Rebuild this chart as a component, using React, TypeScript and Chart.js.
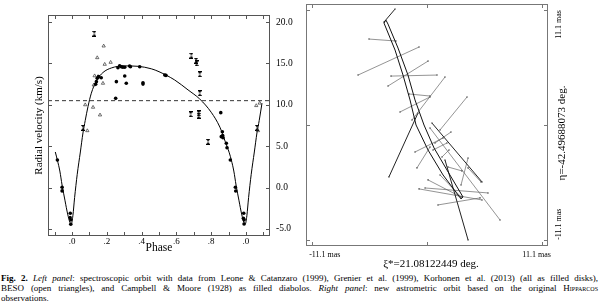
import React, { useEffect, useRef } from 'react';
import { Chart, registerables } from 'chart.js';

Chart.register(...registerables);

const SERIF = "'Liberation Serif', 'Times New Roman', serif";

// ---------- Left panel: spectroscopic orbit ----------
const PHASE_MIN = -0.138;
const PHASE_MAX = 1.138;
const RV_MIN = -5.85;
const RV_MAX = 20.85;
const phaseTicks = [0, 0.2, 0.4, 0.6, 0.8, 1.0];
const phaseTickLabels = ['.0', '.2', '.4', '.6', '.8', '.0'];
const phaseMinorTicks = [-0.1, 0, 0.1, 0.2, 0.3, 0.4, 0.5, 0.6, 0.7, 0.8, 0.9, 1.0, 1.1];
const rvTicks = [-5, 0, 5, 10, 15, 20];
const rvTickLabels = ['-5.0', '0.0', '5.0', '10.0', '15.0', '20.0'];
const systemicVelocity = 10.5;

const curvePhase = [-0.096, -0.084, -0.07, -0.057, -0.04, -0.025, -0.012, -0.004, 0.005, 0.015, 0.03, 0.048, 0.063, 0.076, 0.092, 0.111, 0.14, 0.178, 0.226, 0.3, 0.38, 0.456, 0.5, 0.59, 0.667, 0.734, 0.8, 0.85, 0.88, 0.904, 0.916, 0.93, 0.943, 0.96, 0.975, 0.988, 0.996, 1.005, 1.015, 1.03, 1.048, 1.063, 1.076, 1.092];
const curveRV = [4.3, 3.3, 2.0, 0.3, -1.6, -3.2, -4.2, -4.4, -3.4, -1.2, 1.6, 4.3, 6.6, 8.1, 9.8, 11.4, 12.9, 13.9, 14.45, 14.7, 14.65, 14.35, 14.0, 13.0, 11.8, 10.7, 9.1, 7.3, 5.6, 4.2, 3.3, 2.0, 0.3, -1.6, -3.2, -4.2, -4.4, -3.4, -1.2, 1.6, 4.3, 6.6, 8.1, 10.2];

const diskPhase = [-0.084, -0.057, -0.057, -0.010, -0.011, -0.007, -0.007, 0.136, 0.140, 0.145, 0.153, 0.168, 0.255, 0.251, 0.264, 0.274, 0.283, 0.292, 0.303, 0.303, 0.312, 0.331, 0.336, 0.389, 0.408, 0.408, 0.533, 0.540, 0.855, 0.858, 0.864, 0.868, 0.866, 0.887, 0.891, 0.910, 0.939, 0.941, 0.987, 0.985, 0.989, 0.989];
const diskRV = [3.33, 0.04, -0.4, -3.1, -3.63, -3.9, -4.43, 12.48, 12.8, 13.2, 13.4, 13.27, 12.8, 10.78, 14.48, 14.72, 14.6, 14.55, 14.53, 13.48, 12.6, 14.69, 14.6, 14.6, 12.67, 12.5, 13.6, 13.55, 9.05, 6.15, 6.75, 6.03, 6.3, 5.35, 4.82, 3.33, 0.04, -0.41, -3.1, -3.71, -3.9, -4.4];

const trianglePhase = [0.076, 0.088, 0.121, 0.125, 0.13, 0.145, 0.149, 0.161, 0.178, 0.182, 0.188, 0.222, 1.059, 1.069, 1.079];
const triangleRV = [10.0, 6.87, 9.7, 12.39, 13.5, 15.69, 13.4, 8.77, 12.6, 17.1, 14.89, 15.13, 9.9, 6.87, 10.2];

const diaboloPhase = [0.128, 0.686, 0.713, 0.716, 0.734, 0.734, 0.682, 0.728, 0.728, 0.063, 1.063, 0.782];
const diaboloRV = [18.6, 15.95, 15.35, 15.0, 13.68, 11.39, 8.85, 8.95, 8.7, 7.24, 7.24, 5.54];

// ---------- Right panel: astrometric orbit (mas) ----------
const MAS_LIM = 11.7;
const masTicks = [-11.1, 0, 11.1];
const masTickLabels = ['-11.1 mas', '', '11.1 mas'];
const xiTitle = 'ξ*=21.08122449 deg.';
const etaTitle = 'η=-42.49688073 deg.';

const orbitXi = [-3.97, -4.16, -3.09, -2.32, -1.64, -1.06, 0.10, 1.55, 3.29, 3.48, 1.93, 0.68, -0.29, -1.16, -1.84, -2.80, -3.77, -3.97];
const orbitEta = [10.14, 9.86, 7.25, 4.83, 2.42, 0.0, -2.42, -4.83, -7.15, -6.96, -4.35, -2.22, 0.0, 2.42, 4.83, 7.44, 9.76, 10.14];

const segXi1 = [-4.16, -5.61, -6.67, -3.77, -3.48, -1.45, -2.61, -1.74, 1.26, -3.68, -1.16, -0.97, -0.19, 0.29, 0.48, 1.74, -0.77, 1.06, 0.10, 3.29, 3.97, 0.58, 0.77, 1.26, 2.03, 1.45];
const segEta1 = [9.95, 8.31, 4.83, 3.77, 4.73, 0.48, 1.26, 3.0, -0.48, -5.02, -2.61, -4.15, -6.09, -0.29, 0.19, -3.38, -6.18, -7.73, -5.31, -5.8, -4.15, -2.42, -1.74, -4.83, -4.06, -3.09];
const segXi2 = [-3.09, -3.0, -0.77, 0.10, 0.97, 1.74, 0.29, 0.29, 3.87, -0.87, 1.55, 0.29, 5.9, 7.06, 5.32, 3.97, 5.32, 5.13, 3.29, 3.97, 5.22, 1.93, 2.32, 3.29, 3.38, 2.13];
const segEta2 = [11.21, 8.12, 7.54, 6.18, 4.83, 4.64, 2.71, 2.8, 2.71, 1.16, -1.26, -2.13, -6.57, -9.18, -5.51, -11.11, -7.25, -7.05, -6.96, -3.19, -5.51, -1.74, -0.68, -6.96, -4.44, -2.42];
const segDark = [true, false, false, false, false, false, false, false, false, true, false, false, false, false, true, true, false, false, false, false, false, false, false, false, false, false];

const toPts = (xs: number[], ys: number[]) => xs.map((x, i) => ({ x, y: ys[i] }));

function makeDiabolo() {
  const c = document.createElement('canvas');
  c.width = 4;
  c.height = 6;
  const g = c.getContext('2d')!;
  g.fillStyle = '#000';
  g.fillRect(0, 0, 4, 1);
  g.fillRect(0, 5, 4, 1);
  g.beginPath(); g.moveTo(0.3, 0.5); g.lineTo(3.7, 0.5); g.lineTo(2, 3); g.closePath(); g.fill();
  g.beginPath(); g.moveTo(0.3, 5.5); g.lineTo(3.7, 5.5); g.lineTo(2, 3); g.closePath(); g.fill();
  return c;
}

const leftFrame = {
  id: 'leftFrame',
  afterDatasetsDraw(chart: any) {
    const { ctx, chartArea: a, scales } = chart;
    const xs = scales.x, ys = scales.y;
    ctx.save();
    ctx.strokeStyle = '#555';
    ctx.lineWidth = 1;
    ctx.strokeRect(a.left + 0.5, a.top + 0.5, a.right - a.left - 1, a.bottom - a.top - 1);
    ctx.beginPath();
    for (const v of phaseMinorTicks) {
      const p = Math.round(xs.getPixelForValue(v)) + 0.5;
      ctx.moveTo(p, a.bottom); ctx.lineTo(p, a.bottom - 4);
      ctx.moveTo(p, a.top); ctx.lineTo(p, a.top + 4);
    }
    for (const v of rvTicks) {
      const p = Math.round(ys.getPixelForValue(v)) + 0.5;
      ctx.moveTo(a.left, p); ctx.lineTo(a.left + 4, p);
      ctx.moveTo(a.right, p); ctx.lineTo(a.right - 4, p);
    }
    ctx.stroke();
    ctx.restore();
  },
};

const rightFrame = {
  id: 'rightFrame',
  afterDatasetsDraw(chart: any) {
    const { ctx, chartArea: a, scales } = chart;
    const xs = scales.x, ys = scales.y;
    ctx.save();
    ctx.strokeStyle = '#777';
    ctx.lineWidth = 1;
    ctx.strokeRect(a.left + 0.5, a.top + 0.5, a.right - a.left - 1, a.bottom - a.top - 1);
    ctx.beginPath();
    for (const v of masTicks) {
      const px = Math.round(xs.getPixelForValue(v)) + 0.5;
      ctx.moveTo(px, a.bottom); ctx.lineTo(px, a.bottom - 4);
      ctx.moveTo(px, a.top); ctx.lineTo(px, a.top + 4);
      const py = Math.round(ys.getPixelForValue(v)) + 0.5;
      ctx.moveTo(a.left, py); ctx.lineTo(a.left + 4, py);
      ctx.moveTo(a.right, py); ctx.lineTo(a.right - 4, py);
    }
    ctx.stroke();

    ctx.fillStyle = '#000';
    ctx.textBaseline = 'middle';
    ctx.font = `8px ${SERIF}`;
    masTicks.forEach((v, i) => {
      const lbl = masTickLabels[i];
      if (!lbl) return;
      const px = xs.getPixelForValue(v);
      ctx.textAlign = i === 0 ? 'left' : 'right';
      ctx.fillText(lbl, i === 0 ? px - 3 : px + 9, a.bottom + 9);
    });
    masTicks.forEach((v, i) => {
      const lbl = masTickLabels[i];
      if (!lbl) return;
      const py = ys.getPixelForValue(v);
      ctx.save();
      ctx.translate(a.right + 11, py);
      ctx.rotate(-Math.PI / 2);
      ctx.textAlign = i === 0 ? 'left' : 'right';
      ctx.fillText(lbl, 0, 0);
      ctx.restore();
    });
    ctx.font = `11px ${SERIF}`;
    ctx.textAlign = 'center';
    ctx.fillText(xiTitle, (a.left + a.right) / 2 + 4, a.bottom + 18);
    ctx.save();
    ctx.translate(a.right + 14, (a.top + a.bottom) / 2 + 8);
    ctx.rotate(-Math.PI / 2);
    ctx.fillText(etaTitle, 0, 0);
    ctx.restore();
    ctx.restore();
  },
};

export default function App() {
  const leftRef = useRef<HTMLCanvasElement>(null);
  const rightRef = useRef<HTMLCanvasElement>(null);

  useEffect(() => {
    const diabolo = makeDiabolo();
    const left = new Chart(leftRef.current!, {
      type: 'scatter',
      data: {
        datasets: [
          { label: 'disks', data: toPts(diskPhase, diskRV), pointStyle: 'circle', pointRadius: 1.8, backgroundColor: '#000', borderWidth: 0 } as any,
          { label: 'BESO', data: toPts(trianglePhase, triangleRV), pointStyle: 'triangle', pointRadius: 1.9, backgroundColor: 'rgba(0,0,0,0)', borderColor: '#333', borderWidth: 0.7 },
          { label: 'diabolos', data: toPts(diaboloPhase, diaboloRV), pointStyle: diabolo, pointRadius: 3 },
          { label: 'orbit', data: toPts(curvePhase, curveRV), showLine: true, pointRadius: 0, borderColor: '#000', borderWidth: 1, cubicInterpolationMode: 'monotone' },
          { label: 'gamma', data: [{ x: PHASE_MIN, y: systemicVelocity }, { x: PHASE_MAX, y: systemicVelocity }], showLine: true, pointRadius: 0, borderColor: '#000', borderWidth: 0.8, borderDash: [4, 3] },
        ],
      },
      options: {
        responsive: false,
        maintainAspectRatio: false,
        animation: false,
        devicePixelRatio: 1,
        events: [],
        layout: { padding: { top: 15, left: 0, right: 0, bottom: 0 } },
        plugins: { legend: { display: false }, tooltip: { enabled: false } },
        scales: {
          x: {
            type: 'linear', position: 'bottom', min: PHASE_MIN, max: PHASE_MAX,
            afterBuildTicks: (s: any) => { s.ticks = phaseTicks.map((v) => ({ value: v })); },
            afterFit: (s: any) => { s.height = 22; },
            ticks: { callback: (_v: any, i: number) => phaseTickLabels[i], font: { family: SERIF, size: 9 }, color: '#000', padding: 0, maxRotation: 0, autoSkip: false },
            grid: { display: false, drawTicks: false },
            border: { display: false },
            title: { display: true, text: 'Phase', font: { family: SERIF, size: 11.5 }, color: '#000', padding: { top: 0, bottom: 3 } },
          },
          y: {
            type: 'linear', position: 'right', min: RV_MIN, max: RV_MAX,
            afterBuildTicks: (s: any) => { s.ticks = rvTicks.map((v) => ({ value: v })); },
            afterFit: (s: any) => { s.width = 30; },
            ticks: { callback: (_v: any, i: number) => rvTickLabels[i], font: { family: SERIF, size: 9.5 }, color: '#000', padding: 6, autoSkip: false },
            grid: { display: false, drawTicks: false },
            border: { display: false },
          },
          yL: {
            type: 'linear', position: 'left', min: RV_MIN, max: RV_MAX,
            afterFit: (s: any) => { s.width = 48; },
            ticks: { display: false },
            grid: { display: false, drawTicks: false },
            border: { display: false },
            title: { display: true, text: 'Radial velocity (km/s)', font: { family: SERIF, size: 11 }, color: '#000', padding: { top: 33, bottom: 0 } },
          },
        },
      } as any,
      plugins: [leftFrame],
    });

    const segDatasets = segXi1.map((_, i) => ({
      label: 'scan' + i,
      data: [{ x: segXi1[i], y: segEta1[i] }, { x: segXi2[i], y: segEta2[i] }],
      showLine: true,
      borderColor: segDark[i] ? '#222' : '#666',
      borderWidth: segDark[i] ? 1 : 0.7,
      pointRadius: 0.8,
      pointBackgroundColor: '#555',
      pointBorderWidth: 0,
    }));

    const right = new Chart(rightRef.current!, {
      type: 'scatter',
      data: {
        datasets: [
          { label: 'orbit', data: toPts(orbitXi, orbitEta), showLine: true, pointRadius: 0, borderColor: '#111', borderWidth: 1 },
          ...segDatasets,
        ],
      },
      options: {
        responsive: false,
        maintainAspectRatio: false,
        animation: false,
        devicePixelRatio: 1,
        events: [],
        layout: { padding: { top: 4, left: 6, right: 52, bottom: 26 } },
        plugins: { legend: { display: false }, tooltip: { enabled: false } },
        scales: {
          x: { type: 'linear', min: -MAS_LIM, max: MAS_LIM, display: false },
          y: { type: 'linear', min: -MAS_LIM, max: MAS_LIM, display: false },
        },
      } as any,
      plugins: [rightFrame],
    });

    return () => { left.destroy(); right.destroy(); };
  }, []);

  const lineStyle: React.CSSProperties = { height: 10, textAlign: 'justify', textAlignLast: 'justify' as any, whiteSpace: 'nowrap' };

  return (
    <div style={{ position: 'absolute', left: 0, top: 0, width: 600, height: 307, background: '#fff', overflow: 'hidden', fontFamily: SERIF, color: '#000' }}>
      <canvas ref={leftRef} width={300} height={258} style={{ position: 'absolute', left: 0, top: 0, width: 300, height: 258 }} />
      <canvas ref={rightRef} width={300} height={272} style={{ position: 'absolute', left: 300, top: 0, width: 300, height: 272 }} />
      <div style={{ position: 'absolute', left: 1, top: 273, width: 597, fontSize: 9, lineHeight: '10px' }}>
        <div style={lineStyle}>
          <b>Fig. 2.</b> <i>Left panel</i>: spectroscopic orbit with data from Leone &amp; Catanzaro (1999), Grenier et al. (1999), Korhonen et al. (2013) (all as filled disks),
        </div>
        <div style={lineStyle}>
          BESO (open triangles), and Campbell &amp; Moore (1928) as filled diabolos. <i>Right panel</i>: new astrometric orbit based on the original <span style={{ fontVariant: 'small-caps' }}>Hipparcos</span>
        </div>
        <div style={{ height: 10 }}>observations.</div>
      </div>
    </div>
  );
}
